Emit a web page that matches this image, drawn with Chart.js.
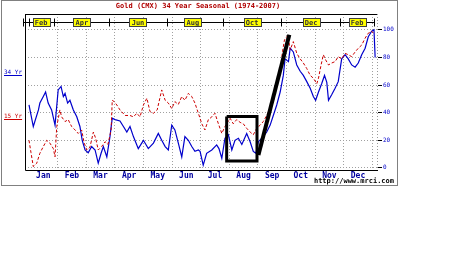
<!DOCTYPE html>
<html>
<head>
<meta charset="utf-8">
<script src="https://cdn.jsdelivr.net/npm/chart.js@4.4.0/dist/chart.umd.min.js"></script>
<style>
  html, body { margin: 0; padding: 0; background: #fff; }
  canvas { display: block; }
</style>
</head>
<body>
<canvas id="seasonal" width="464" height="273"></canvas>
<script>
// months on the x axis run 0..12 (Jan start .. next Jan start)
const monthNames = ['Jan', 'Feb', 'Mar', 'Apr', 'May', 'Jun', 'Jul', 'Aug', 'Sep', 'Oct', 'Nov', 'Dec'];
const monthCenters = [0.5, 1.5, 2.5, 3.5, 4.5, 5.5, 6.5, 7.5, 8.5, 9.5, 10.5, 11.5];
const contractNames = ['Feb', 'Apr', 'Jun', 'Aug', 'Oct', 'Dec', 'Feb'];
const contractPos = [0.42, 1.85, 3.81, 5.73, 7.8, 9.86, 11.47];
const contractTicks = [0, 0.87, 2.8, 4.83, 6.78, 8.81, 10.87, 12.06];
const yTicks = [0, 20, 40, 60, 80, 100];

// 34 year seasonal (blue)
const yr34Months = [0.0, 0.15, 0.33, 0.38, 0.5, 0.58, 0.67, 0.79, 0.91, 1.02,
  1.12, 1.2, 1.26, 1.35, 1.43, 1.55, 1.67, 1.78, 1.86, 1.96,
  2.07, 2.19, 2.31, 2.42, 2.52, 2.6, 2.72, 2.83, 2.91, 3.01,
  3.18, 3.3, 3.42, 3.53, 3.65, 3.82, 4.0, 4.17, 4.35, 4.52,
  4.64, 4.76, 4.87, 4.99, 5.1, 5.22, 5.34, 5.45, 5.57, 5.69,
  5.8, 5.92, 5.98, 6.09, 6.21, 6.39, 6.56, 6.64, 6.74, 6.85,
  6.97, 7.09, 7.2, 7.32, 7.44, 7.61, 7.73, 7.84, 7.93, 8.02,
  8.19, 8.31, 8.43, 8.54, 8.66, 8.78, 8.89, 8.95, 9.07, 9.13,
  9.24, 9.36, 9.48, 9.59, 9.71, 9.83, 9.94, 10.02, 10.12, 10.23,
  10.33, 10.41, 10.47, 10.58, 10.7, 10.81, 10.93, 11.05, 11.16, 11.28,
  11.4, 11.51, 11.63, 11.75, 11.86, 11.98, 12.06, 12.1];
const yr34Values = [45.6, 30, 42, 47, 51.7, 55, 47, 42, 31, 56.5,
  59, 51.7, 54, 47, 49, 42, 37, 30, 20, 13,
  11, 15.5, 13, 3.4, 10.6, 15.5, 8, 22.7, 36, 35,
  34, 30, 26, 30, 22.7, 14, 20, 14, 18, 25,
  20, 15.5, 13, 31, 27.5, 18, 8, 22.7, 20, 15.5,
  12, 13, 12, 2, 10.6, 13, 16.7, 14, 7, 21.5,
  24, 13, 20, 21.5, 17, 25, 19, 12, 10.6, 19,
  22.7, 26, 31, 38, 45.6, 55, 67, 79, 77, 86.7,
  84, 74.6, 70, 67, 62.5, 57.7, 51.7, 49, 55, 61,
  67, 62, 49, 53, 57.7, 62.5, 79, 82, 79, 74.6,
  73, 76, 82, 86.7, 95, 99, 100, 80];

// 15 year seasonal (red, dashed)
const yr15Months = [0, 0.07, 0.15, 0.27, 0.38, 0.5, 0.62, 0.73, 0.85, 0.91,
  0.97, 1.08, 1.14, 1.26, 1.37, 1.49, 1.61, 1.72, 1.84, 1.93,
  2.02, 2.13, 2.25, 2.33, 2.42, 2.54, 2.66, 2.76, 2.87, 2.91,
  2.98, 3.07, 3.18, 3.36, 3.53, 3.65, 3.77, 3.88, 4.0, 4.12,
  4.23, 4.35, 4.48, 4.64, 4.76, 4.87, 4.99, 5.1, 5.22, 5.34,
  5.45, 5.57, 5.69, 5.8, 5.92, 6.04, 6.15, 6.27, 6.39, 6.5,
  6.62, 6.74, 6.85, 7.03, 7.14, 7.26, 7.38, 7.49, 7.61, 7.73,
  7.84, 7.96, 8.08, 8.19, 8.31, 8.43, 8.54, 8.66, 8.78, 8.86,
  8.93, 9.05, 9.13, 9.24, 9.36, 9.48, 9.59, 9.71, 9.83, 9.94,
  10.06, 10.12, 10.21, 10.29, 10.35, 10.47, 10.58, 10.7, 10.81, 10.93,
  11.05, 11.16, 11.28, 11.4, 11.51, 11.63, 11.75, 11.86, 11.98, 12.04];
const yr15Values = [20, 11, 1, 3.4, 10.6, 15.5, 20, 18, 14, 8,
  30, 42, 37, 33.6, 35, 30, 27.5, 25, 27.5, 18,
  13, 15, 26, 21.5, 13, 15.5, 19, 17, 27.5, 49,
  48, 45.6, 42, 38, 38, 37, 39.6, 37, 45.6, 50.5,
  40.8, 39.6, 42, 56.5, 49, 47, 43, 48, 46, 51.7,
  49, 54, 51.7, 47, 39.6, 32, 27.5, 35, 37, 39.6,
  32, 25, 30, 36, 32, 35, 33, 32, 28.7, 26,
  24, 28.7, 31, 33.6, 38, 43, 48, 60, 70, 84,
  92.7, 96, 85.5, 91.5, 83, 79, 76, 72, 67, 65,
  61, 65, 74.6, 82, 79, 74.6, 76, 77, 80.6, 79,
  83, 82, 80.6, 84, 86.7, 89, 94, 97.6, 99, 97.6];

// hand drawn annotations (in month / index units)
const boxMonths = [6.91, 7.97, 7.97, 6.91, 6.91];
const boxValues = [37.3, 37.3, 5.1, 5.1, 37.3];
const trendMonths = [8.02, 9.1];
const trendValues = [9.4, 96.4];

const seriesTags = ['34 Yr', '15 Yr'];
const seriesTagValues = [69.6, 37.7];

function toPoints(xs, ys) {
    return xs.map((x, i) => ({ x: x, y: ys[i] }));
}

const mono = "'DejaVu Sans Mono', monospace";

const framePlugin = {
    id: 'frame',
    beforeDraw(chart) {
        const ctx = chart.ctx;
        ctx.save();
        ctx.fillStyle = '#fff';
        ctx.fillRect(0, 0, chart.width, chart.height);
        ctx.strokeStyle = '#808080';
        ctx.lineWidth = 1;
        ctx.strokeRect(1.5, 0.5, 396, 185);
        ctx.restore();
    },
    afterDraw(chart) {
        const { ctx, chartArea: a, scales: { x, y } } = chart;
        ctx.save();

        // plot frame
        ctx.strokeStyle = '#000';
        ctx.lineWidth = 1;
        ctx.beginPath();
        ctx.moveTo(a.left + 0.5, a.top);
        ctx.lineTo(a.left + 0.5, a.bottom + 0.5);
        ctx.lineTo(a.right, a.bottom + 0.5);
        ctx.moveTo(a.left, a.top + 0.5);
        ctx.lineTo(a.right, a.top + 0.5);
        ctx.stroke();
        ctx.strokeStyle = '#999';
        ctx.setLineDash([1, 2]);
        ctx.beginPath();
        ctx.moveTo(a.right - 0.5, a.top);
        ctx.lineTo(a.right - 0.5, a.bottom);
        ctx.stroke();
        ctx.setLineDash([]);

        // contract month strip
        const midY = a.top + 8.5;
        ctx.strokeStyle = '#000';
        ctx.beginPath();
        ctx.moveTo(a.left - 2, midY);
        ctx.lineTo(x.getPixelForValue(contractTicks[contractTicks.length - 1]), midY);
        contractTicks.forEach(t => {
            const px = Math.round(x.getPixelForValue(t)) + 0.5;
            ctx.moveTo(px, midY - 4);
            ctx.lineTo(px, midY + 4);
        });
        ctx.moveTo(a.left - 2 + 0.5, midY - 4);
        ctx.lineTo(a.left - 2 + 0.5, midY + 4);
        ctx.stroke();

        ctx.font = 'bold 7px ' + mono;
        ctx.textAlign = 'center';
        ctx.textBaseline = 'middle';
        contractNames.forEach((name, i) => {
            const cx = x.getPixelForValue(contractPos[i]);
            const w = Math.round(ctx.measureText(name).width) + 4;
            const left = Math.round(cx - w / 2) + 0.5;
            ctx.fillStyle = '#ffff00';
            ctx.fillRect(left, midY - 4, w, 8);
            ctx.strokeStyle = '#404040';
            ctx.strokeRect(left, midY - 4, w, 8);
            ctx.fillStyle = '#333';
            ctx.fillText(name, cx, midY + 0.5);
        });

        // title
        ctx.font = 'bold 7px ' + mono;
        ctx.fillStyle = '#b00000';
        ctx.fillText('Gold (CMX) 34 Year Seasonal (1974-2007)', 198, 6);

        // series tags on the left
        ctx.font = '6px ' + mono;
        ctx.textAlign = 'left';
        const tagColors = ['#0000cc', '#cc0000'];
        seriesTags.forEach((tag, i) => {
            const ty = Math.round(y.getPixelForValue(seriesTagValues[i]));
            ctx.fillStyle = tagColors[i];
            ctx.fillText(tag, 4, ty);
            const w = ctx.measureText(tag).width;
            ctx.fillRect(4, ty + 3, w, 1);
        });

        // source
        ctx.font = 'bold 7px ' + mono;
        ctx.fillStyle = '#000';
        ctx.textAlign = 'right';
        ctx.fillText('http://www.mrci.com', 394, 181);
        ctx.restore();
    }
};

const ctx = document.getElementById('seasonal').getContext('2d');
new Chart(ctx, {
    type: 'line',
    data: {
        datasets: [
            {
                label: 'trend',
                data: toPoints(trendMonths, trendValues),
                borderColor: '#000',
                borderWidth: 4,
                pointRadius: 0,
                order: 0
            },
            {
                label: 'box',
                data: toPoints(boxMonths, boxValues),
                borderColor: '#000',
                borderWidth: 3,
                pointRadius: 0,
                order: 0
            },
            {
                label: '15 Yr',
                data: toPoints(yr15Months, yr15Values),
                borderColor: '#cc0000',
                borderWidth: 1,
                borderDash: [3, 2],
                pointRadius: 0,
                order: 1
            },
            {
                label: '34 Yr',
                data: toPoints(yr34Months, yr34Values),
                borderColor: '#0000cc',
                borderWidth: 1.2,
                pointRadius: 0,
                order: 2
            }
        ]
    },
    options: {
        responsive: false,
        animation: false,
        layout: { padding: { left: 25, top: 14, right: 66, bottom: 91 } },
        plugins: { legend: { display: false }, tooltip: { enabled: false } },
        elements: { line: { tension: 0 } },
        scales: {
            x: {
                type: 'linear',
                min: -0.14,
                max: 12.2,
                afterBuildTicks: s => { s.ticks = monthCenters.map(v => ({ value: v })); },
                afterFit: s => { s.height = 12; },
                grid: {
                    offset: true,
                    drawTicks: false,
                    color: c => c.index === 0 ? 'rgba(0,0,0,0)' : '#a0a0a0'
                },
                border: { display: false, dash: [1, 2] },
                ticks: {
                    autoSkip: false,
                    maxRotation: 0,
                    padding: 1,
                    color: '#0000a0',
                    font: { family: mono, size: 8, weight: 'bold' },
                    callback: (v, i) => monthNames[i]
                }
            },
            y: {
                position: 'right',
                min: -1.5,
                max: 111.5,
                afterBuildTicks: s => { s.ticks = yTicks.map(v => ({ value: v })); },
                afterFit: s => { s.width = 20; },
                grid: { color: '#a0a0a0', tickColor: '#000', tickLength: 4, tickBorderDash: [0, 0] },
                border: { display: false, dash: [1, 2] },
                ticks: {
                    padding: 1,
                    color: '#0000cc',
                    font: { family: mono, size: 6 }
                }
            }
        }
    },
    plugins: [framePlugin]
});
</script>
</body>
</html>
